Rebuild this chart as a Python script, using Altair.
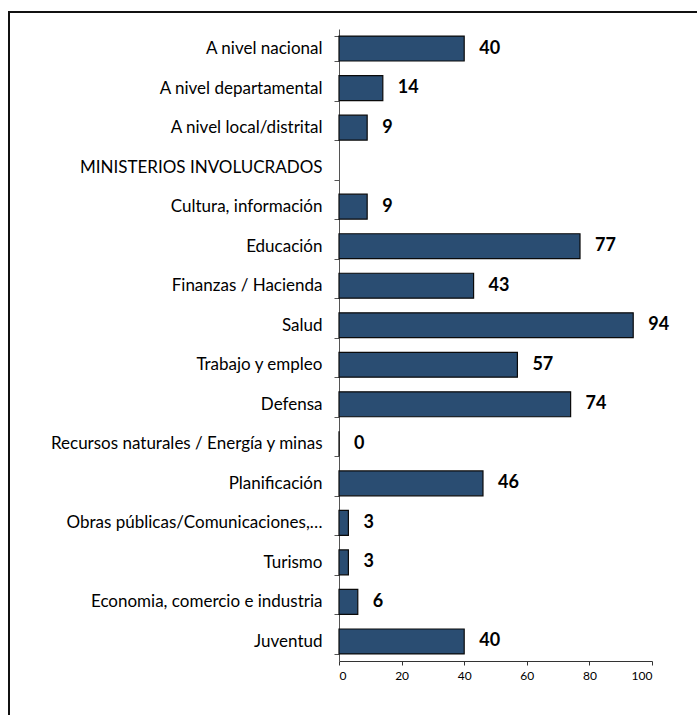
import altair as alt
import pandas as pd

categories = [
    "A nivel nacional",
    "A nivel departamental",
    "A nivel local/distrital",
    "MINISTERIOS INVOLUCRADOS",
    "Cultura, información",
    "Educación",
    "Finanzas / Hacienda",
    "Salud",
    "Trabajo y empleo",
    "Defensa",
    "Recursos naturales / Energía y minas",
    "Planificación",
    "Obras públicas/Comunicaciones,…",
    "Turismo",
    "Economia, comercio e industria",
    "Juventud",
]
values = [40, 14, 9, None, 9, 77, 43, 94, 57, 74, 0, 46, 3, 3, 6, 40]
x_ticks = [0, 20, 40, 60, 80, 100]

df = pd.DataFrame({"cat": categories, "value": values})
df_valid = df.dropna()

FONT = "Lato"

y_enc = alt.Y(
    "cat:N",
    sort=categories,
    scale=alt.Scale(domain=categories, paddingInner=0.37, paddingOuter=0.18),
    axis=alt.Axis(
        title=None,
        labelFont=FONT,
        labelFontSize=17,
        labelColor="#000000",
        labelPadding=12,
        tickSize=5,
        tickColor="#555555",
        domainColor="#555555",
        tickBand="extent",
        labelLimit=400,
    ),
)
x_enc = alt.X(
    "value:Q",
    scale=alt.Scale(domain=[0, 100], nice=False),
    axis=alt.Axis(
        title=None,
        values=x_ticks,
        grid=False,
        labelFont=FONT,
        labelFontSize=12,
        labelColor="#000000",
        tickSize=4,
        tickColor="#333333",
        domainColor="#333333",
        labelPadding=5,
    ),
)

bars = alt.Chart(df_valid).mark_bar(
    color="#2A4D72", stroke="#0a0a0a", strokeWidth=1.2
).encode(x=x_enc, y=y_enc)

labels = alt.Chart(df_valid).mark_text(
    align="left", baseline="middle", dx=15, font=FONT, fontSize=18, fontWeight="bold", color="#000000"
).encode(
    x=alt.X("value:Q"),
    y=alt.Y("cat:N", sort=categories),
    text=alt.Text("value:Q", format="d"),
)

frame = alt.Chart(pd.DataFrame({"a": [0]})).mark_rect(
    fill="transparent", stroke="#111111", strokeWidth=2
).encode(
    x=alt.value(-330), x2=alt.value(420), y=alt.value(-17), y2=alt.value(720)
)

chart = alt.layer(bars, labels, frame).properties(
    width=313,
    height=632,
    autosize=alt.AutoSizeParams(type="none"),
    padding={"left": 339, "top": 29, "right": 45, "bottom": 54},
).configure(background="white").configure_view(stroke="transparent")

chart.save("out.html", embed_options={"renderer": "svg", "actions": False})
